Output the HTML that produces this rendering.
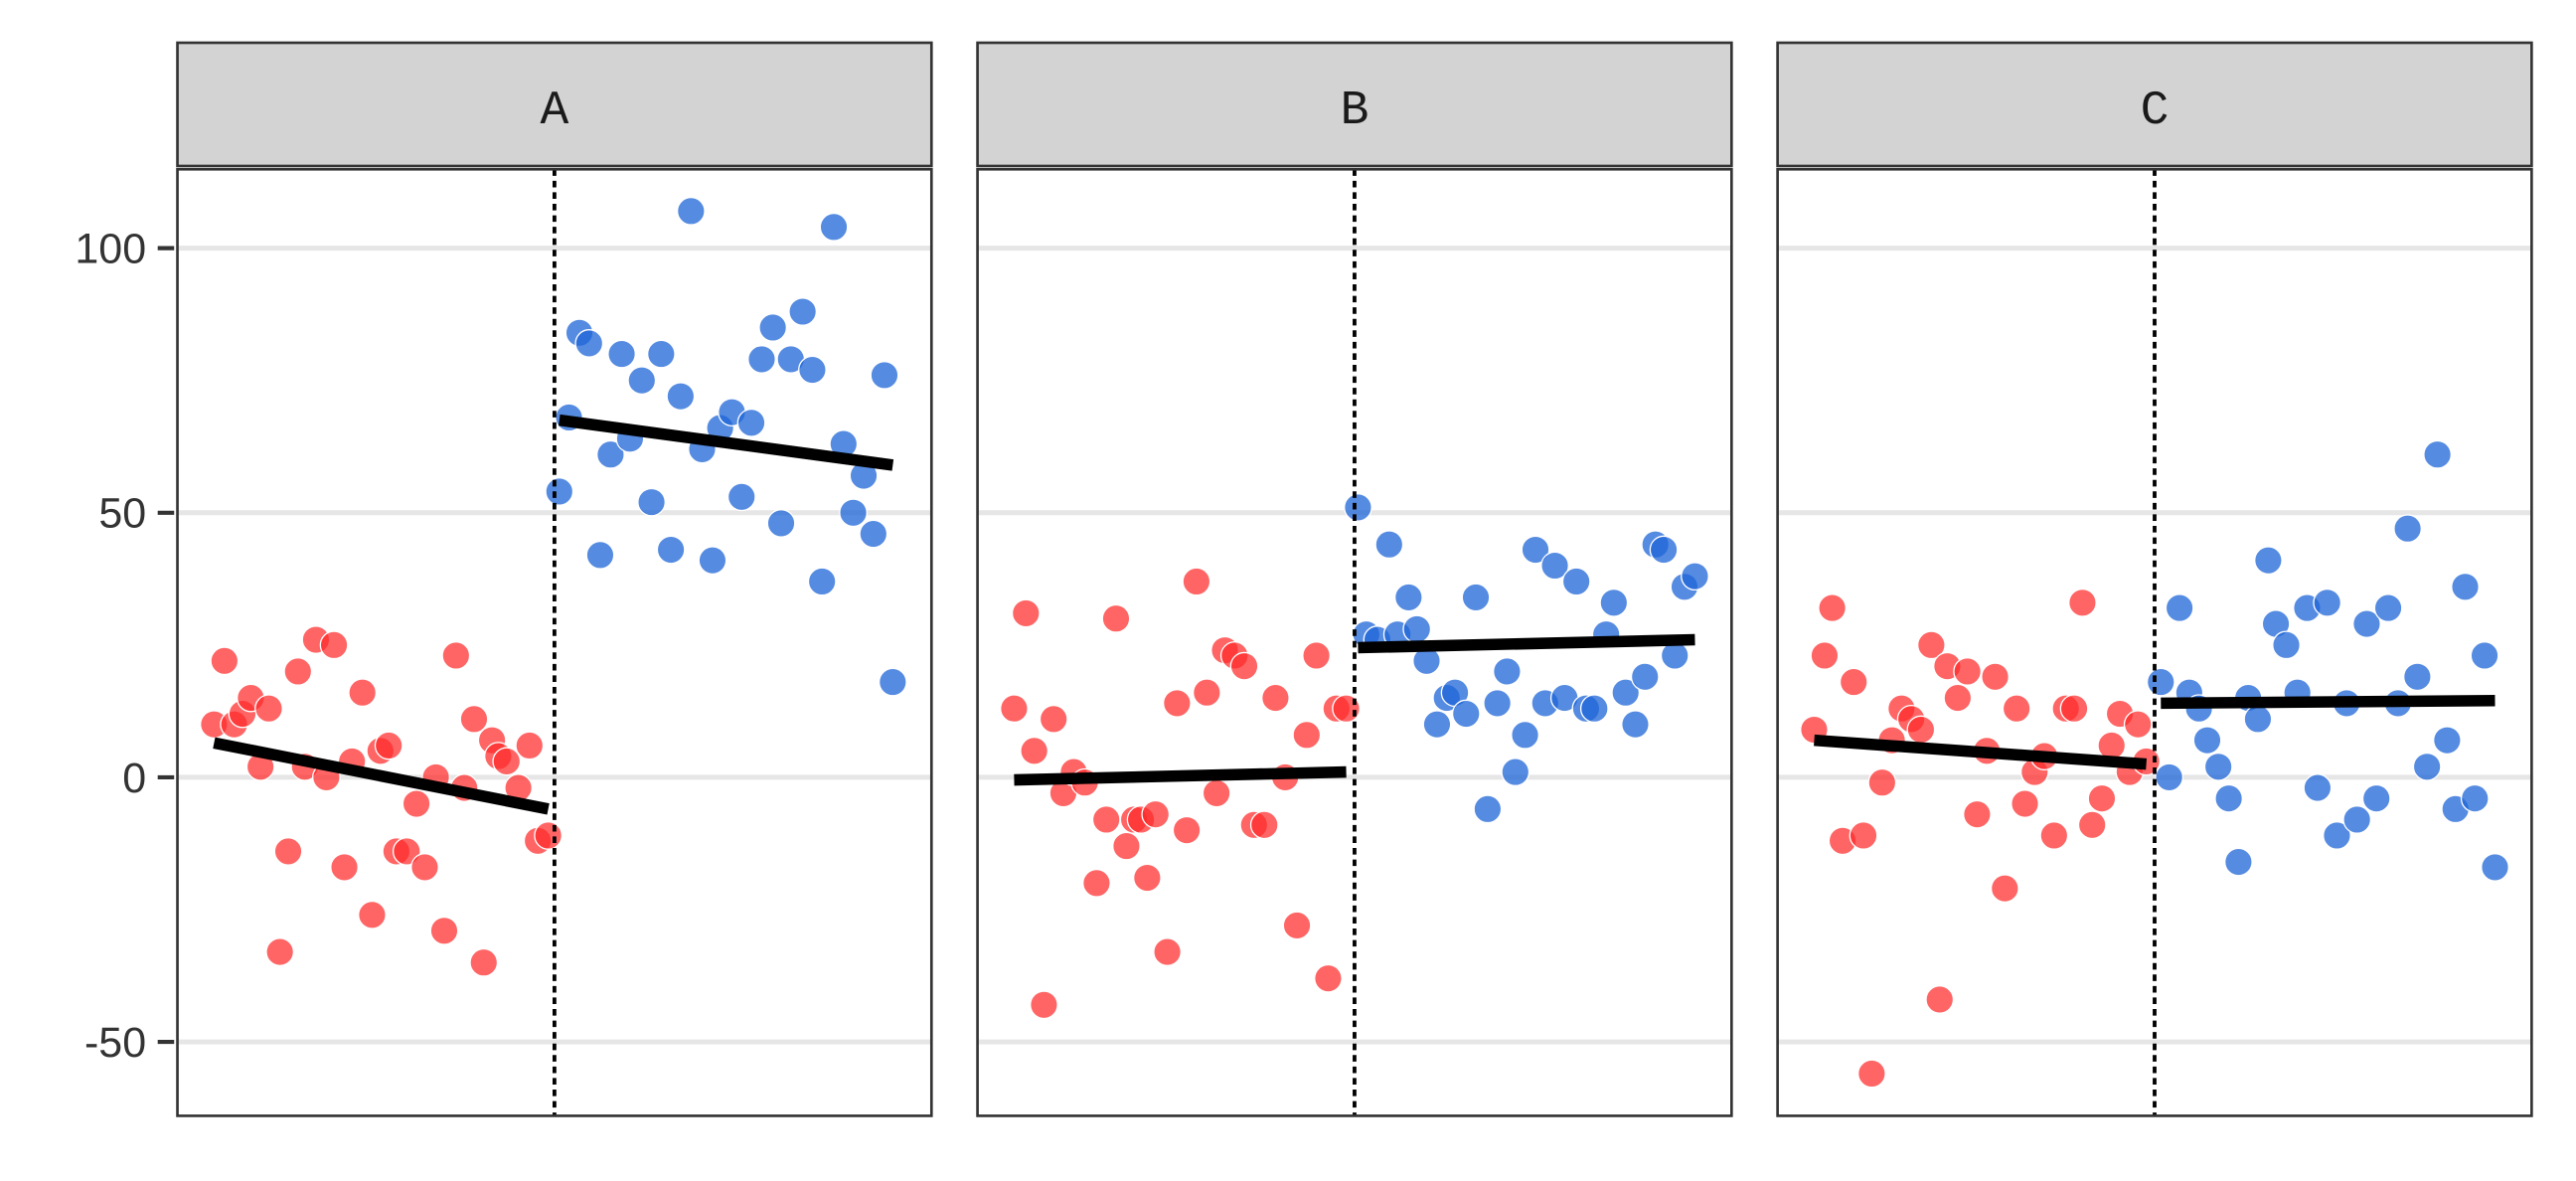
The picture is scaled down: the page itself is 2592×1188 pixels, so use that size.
<!DOCTYPE html>
<html><head><meta charset="utf-8"><style>
html,body{margin:0;padding:0;background:#fff;}
svg{display:block;}
</style></head><body>
<svg id="chart" width="2592" height="1188" viewBox="0 0 1568 718.65" xmlns="http://www.w3.org/2000/svg"></svg>
<script>
const panels = ["A","B","C"];
const yTicks = [100,50,0,-50];
const cutoff = 50;
const aRedX = [0.9,2.4,3.8,5.0,6.2,7.6,8.8,10.4,11.6,13.0,14.0,15.6,17.1,18.2,19.7,20.8,22.3,23.7,24.9,26.1,27.2,28.7,30.1,31.3,32.9,34.1,35.8,37.0,38.4,39.8,41.0,41.9,43.1,44.8,46.4,47.6,49.1];
const aRedY = [10,22,10,12,15,2,13,-33,-14,20,2,26,0,25,-17,3,16,-26,5,6,-14,-14,-5,-17,0,-29,23,-2,11,-35,7,4,3,-2,6,-12,-11];
const aBlueX = [50.7,52.1,53.6,55.0,56.6,58.1,59.7,60.9,62.6,64.0,65.4,66.8,68.2,69.7,71.3,72.8,73.9,75.6,77.0,78.4,79.9,81.5,82.7,84.1,85.8,87.2,88.6,90.3,91.7,93.1,94.6,96.0,97.6,98.8];
const aBlueY = [54,68,84,82,42,61,80,64,75,52,80,43,72,107,62,41,66,69,53,67,79,85,48,79,88,77,37,104,63,50,57,46,76,18];
const bRedX = [0.9,2.6,3.8,5.2,6.6,8.0,9.5,11.1,12.8,14.2,15.6,17.1,18.2,19.2,20.1,21.3,23.0,24.4,25.8,27.2,28.7,30.1,31.3,32.7,34.1,35.5,37.0,38.6,40.0,41.7,43.1,44.5,46.2,47.4,48.8];
const bRedY = [13,31,5,-43,11,-3,1,-1,-20,-8,30,-13,-8,-8,-19,-7,-33,14,-10,37,16,-3,24,23,21,-9,-9,15,0,-28,8,23,-38,13,13];
const bBlueX = [50.5,51.7,53.3,55.0,56.2,57.8,59.0,60.4,61.9,63.3,64.5,66.1,67.5,69.2,70.6,72.0,73.2,74.6,76.1,77.5,78.9,80.3,82.0,83.4,84.6,86.3,87.4,89.1,90.5,91.9,93.4,94.6,96.2,97.6,99.1];
const bBlueY = [51,27,26,44,27,34,28,22,10,15,16,12,34,-6,14,20,1,8,43,14,40,15,37,13,13,27,33,16,10,19,44,43,23,36,38];
const cRedX = [0.9,2.4,3.5,5.0,6.6,8.0,9.2,10.7,12.1,13.5,14.9,16.3,17.8,19.0,20.1,21.6,23.0,24.4,25.8,27.0,28.4,30.1,31.3,32.7,34.1,35.5,37.2,38.4,39.6,41.0,42.4,43.8,45.0,46.4,47.6,48.8];
const cRedY = [9,23,32,-12,18,-11,-56,-1,7,13,11,9,25,-42,21,15,20,-7,5,19,-21,13,-5,1,4,-11,13,13,33,-9,-4,6,12,1,10,3];
const cBlueX = [50.9,52.1,53.6,55.0,56.4,57.6,59.2,60.7,62.1,63.5,64.9,66.4,67.5,69.0,70.6,72.0,73.5,74.9,76.3,77.7,79.2,80.6,82.0,83.7,85.1,86.5,87.9,89.3,90.8,92.2,93.4,94.8,96.2,97.6,99.1];
const cBlueY = [18,0,32,16,13,7,2,-4,-16,15,11,41,29,25,16,32,-2,33,-11,14,-8,29,-4,32,14,47,19,2,61,7,-6,36,-4,23,-17];
// fitted line values at group start/end: [panel][side]
const fitStartY = [[6.5,67.5],[-0.5,24.5],[7,14]];
const fitEndY = [[-6,59],[1,26],[2.5,14.5]];

const groups = [
  [[aRedX,aRedY],[aBlueX,aBlueY]],
  [[bRedX,bRedY],[bBlueX,bBlueY]],
  [[cRedX,cRedY],[cBlueX,cBlueY]]
];
const NS = "http://www.w3.org/2000/svg";
const svg = document.getElementById("chart");
function mk(tag, attrs, parent){
  const e = document.createElementNS(NS, tag);
  for (const k in attrs) e.setAttribute(k, attrs[k]);
  (parent||svg).appendChild(e);
  return e;
}
const panelLefts = [108,595,1082];
const panelW = 459, pTop = 103, pBottom = 679, stripTop = 26, stripBot = 101;
function yScale(v){ return 473 - v*3.22; }
function xScale(i, v){ return panelLefts[i] + 229.5 + (v - cutoff)*4.22; }

yTicks.forEach(t=>{
  const l = mk("line",{x1:96,x2:106,y1:yScale(t),y2:yScale(t),stroke:"#333","stroke-width":2.5});
  
  
  const tx = mk("text",{x:89,y:yScale(t)+9,"text-anchor":"end","font-family":"Liberation Sans, sans-serif","font-size":26,fill:"#333"});
  tx.textContent = t;
  
  
});

panels.forEach((p,i)=>{
  const L = panelLefts[i];
  const g = mk("g",{});
  
  
  const s = mk("rect",{x:L,y:stripTop,width:panelW,height:stripBot-stripTop,fill:"#d3d3d3",stroke:"#333","stroke-width":1.6},g);
  
  
  const st = mk("text",{x:L+panelW/2,y:75,"text-anchor":"middle","font-family":"Liberation Mono, monospace","font-size":29,fill:"#1a1a1a"},g);
  st.textContent = p;
  
  
  const bg = mk("rect",{x:L,y:pTop,width:panelW,height:pBottom-pTop,fill:"#fff"},g);
  
  
  yTicks.forEach(t=>{
    const gl = mk("line",{x1:L,x2:L+panelW,y1:yScale(t),y2:yScale(t),stroke:"#e6e6e6","stroke-width":3},g);
    
    
  });
  groups[i].forEach((grp,k)=>{
    const [xs,ys] = grp;
    xs.forEach((xv,j)=>{
      const c = mk("circle",{cx:xScale(i,xv),cy:yScale(ys[j]),r:8.3,fill:k===0?"#ff2a2a":"#1f66d8","fill-opacity":k===0?0.72:0.76,stroke:"#fff","stroke-width":0.8},g);
      
      
    });
  });
  groups[i].forEach((grp,k)=>{
    const [xs] = grp;
    const x0 = Math.min(...xs), x1 = Math.max(...xs);
    const ln = mk("line",{x1:xScale(i,x0),y1:yScale(fitStartY[i][k]),x2:xScale(i,x1),y2:yScale(fitEndY[i][k]),stroke:"#000","stroke-width":7},g);
    
    
  });
  const cl = mk("line",{x1:xScale(i,cutoff),x2:xScale(i,cutoff),y1:pTop,y2:pBottom,stroke:"#000","stroke-width":2.3,"stroke-dasharray":"4,3"},g);
  
  
  const br = mk("rect",{x:L,y:pTop,width:panelW,height:pBottom-pTop,fill:"none",stroke:"#333","stroke-width":1.6},g);
  
  
});
</script>
</body></html>
